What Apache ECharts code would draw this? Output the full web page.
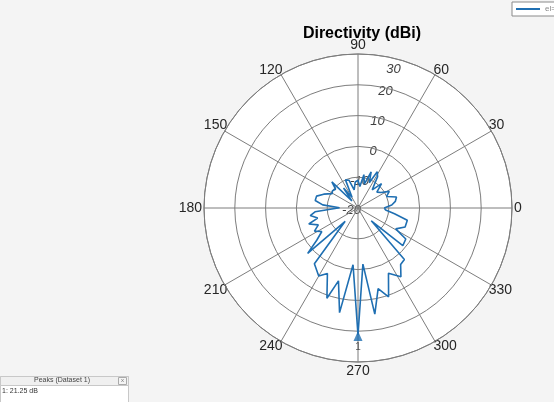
<!DOCTYPE html>
<html><head><meta charset="utf-8">
<script src="https://cdn.jsdelivr.net/npm/echarts@6/dist/echarts.min.js"></script>
<style>html,body{margin:0;padding:0;background:#f4f4f4;}#c{width:554px;height:402px;}</style>
</head><body><div id="c"></div>
<script>
const title = 'Directivity (dBi)';
const seriesName = 'el=0°';
const angleTicks = [0,30,60,90,120,150,180,210,240,270,300,330];
const radiusTicks = [-20,-10,0,10,20,30];
const angles = [0,5,10,16,22,28,34,40,46,52,58,62,66,70,75,80,85,90,96,102,108,114,119,126,131,135,140,146,151,158,164,170,175,179,
  185,189,194,198,203,208,213,218,222,226,232,240,245,251,255,260,265,270,275,279,284,289,295,302,307,312,316,320,327,331,338,346,351,356,360];
const dbi = [-11.5,-9,-7.7,-7,-10,-8.5,-11,-12,-9,-12.5,-8,-6.7,-11,-7.5,-12,-9,-13,-11,-11.5,-14,-10.5,-10,-16,-12,-17,-8,-10.5,-10,-10.4,-8,-6,-5.9,-8.5,-14,
  -6,-4.3,-6.5,-3.2,-6,-4,-6,-3,2,-14,3,5.5,3.5,11,4.5,14.5,-1.5,21.25,-1.7,14.9,7,10.5,3.4,6.3,3,2.5,-14,-1,-1.5,-6,-3.5,-3.5,-8,-11,-11.5];
const peakLabels = ['1'];

let pk = 0;
dbi.forEach((v,i)=>{ if(v>dbi[pk]) pk=i; });
const lineData = angles.map((a,i)=>[dbi[i], a]);

const chart = echarts.init(document.getElementById('c'), null, {renderer:'canvas'});
const font = 'Liberation Sans, Arial, Helvetica, sans-serif';
const grid = '#7d7d7d';
const C = [358,208], R = 154;
const isCardinal = v => v % 90 === 0;
const hiddenAngle = {axisLine:{show:false},axisTick:{show:false},splitLine:{show:false}};
const hiddenRadius = {type:'value',min:-20,max:30,interval:10,axisLine:{show:false},axisTick:{show:false},axisLabel:{show:false},splitLine:{show:false}};
chart.setOption({
  animation:false,
  backgroundColor:'#f4f4f4',
  textStyle:{fontFamily:font},
  title:{text:title,left:357,top:21,textAlign:'center',textStyle:{fontSize:16,fontWeight:'bold',color:'#000',fontFamily:font}},
  legend:{show:true,left:512,top:2,itemWidth:24,itemHeight:2,itemGap:2,padding:[3,4,3,4],
    backgroundColor:'#fff',borderColor:'#8a8a8a',borderWidth:1,borderRadius:0,
    textStyle:{fontSize:8,color:'#888'},icon:'rect',data:[seriesName]},
  polar:[{center:C,radius:R},{center:C,radius:R},{center:C,radius:R}],
  angleAxis:[{polarIndex:0,type:'value',min:0,max:360,interval:30,startAngle:0,clockwise:false,z:3,
      axisLine:{show:true,lineStyle:{color:grid,width:1}},axisTick:{show:false},
      axisLabel:{show:true,margin:2,fontSize:14,color:'#262626',
        formatter:v=>(angleTicks.includes(v)&&isCardinal(v)&&v<360)?String(v):''},
      splitLine:{show:true,lineStyle:{color:grid,width:1,type:'solid'}}},
    Object.assign({polarIndex:1,type:'value',min:0,max:360,startAngle:75,clockwise:false,z:0,axisLabel:{show:false}},hiddenAngle),
    Object.assign({polarIndex:2,type:'value',min:0,max:360,interval:30,startAngle:0,clockwise:false,z:3,
      axisLabel:{show:true,margin:-3,fontSize:14,color:'#262626',
        formatter:v=>(angleTicks.includes(v)&&!isCardinal(v))?String(v):''}},hiddenAngle)],
  radiusAxis:[{polarIndex:0,type:'value',min:-20,max:30,interval:10,z:3,
      axisLine:{show:false},axisTick:{show:false},axisLabel:{show:false},
      splitLine:{show:true,lineStyle:{color:grid,width:1,type:'solid',opacity:1}},
      splitArea:{show:false}},
    {polarIndex:1,type:'value',min:-20,max:30,interval:10,z:1,
      axisLine:{show:false},axisTick:{show:false},splitLine:{show:false},
      splitArea:{show:true,areaStyle:{color:['#fff','#fff']}},
      axisLabel:{show:true,margin:-3,fontSize:13,fontStyle:'italic',color:'#404040',
        formatter:v=>{ if(!radiusTicks.includes(v)) return ''; return v===radiusTicks[radiusTicks.length-1] ? '{o|'+v+'}' : '{n|'+v+'}'; },
        rich:{o:{fontSize:13,fontStyle:'italic',color:'#404040',padding:[18,0,0,6]},
              n:{fontSize:13,fontStyle:'italic',color:'#404040',padding:[4,0,0,5]}}}},
    Object.assign({polarIndex:2},hiddenRadius)],
  series:[{name:seriesName,type:'line',coordinateSystem:'polar',polarIndex:0,data:lineData,
      showSymbol:false,lineStyle:{color:'#1f6fb2',width:1.6},itemStyle:{color:'#1f6fb2'},z:5},
    {name:'peak',type:'scatter',coordinateSystem:'polar',polarIndex:0,
      data:[[dbi[pk],angles[pk]]],symbol:'triangle',symbolSize:[9,10],symbolOffset:[0,1],
      itemStyle:{color:'#1f6fb2'},
      label:{show:true,position:'bottom',distance:1,formatter:()=>peakLabels[0],fontSize:10,color:'#333'},z:6}],
  graphic:[
    {type:'rect',shape:{x:0.5,y:376.5,width:128,height:26},style:{fill:'#fff',stroke:'#c8c8c8',lineWidth:1}},
    {type:'rect',shape:{x:0.5,y:376.5,width:128,height:9},style:{fill:'#f0f0f0',stroke:'#c8c8c8',lineWidth:1}},
    {type:'text',x:62,y:377,style:{text:'Peaks (Dataset 1)',fontSize:7,fill:'#444',textAlign:'center',fontFamily:font}},
    {type:'rect',shape:{x:118.5,y:377.5,width:8,height:7},style:{fill:'#f4f4f4',stroke:'#aaa',lineWidth:1}},
    {type:'text',x:122.5,y:377.5,style:{text:'x',fontSize:6,fill:'#777',textAlign:'center',fontFamily:font}},
    {type:'text',x:2,y:388,style:{text:'1: '+dbi[pk].toFixed(2)+' dB',fontSize:7,fill:'#333',fontFamily:font}}
  ]
});
</script></body></html>
